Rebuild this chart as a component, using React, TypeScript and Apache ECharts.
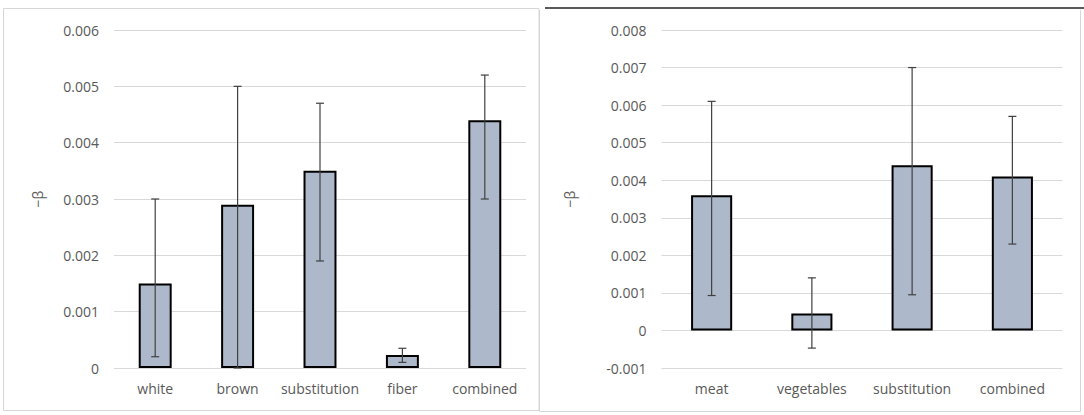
import React, { useEffect, useRef } from "react";
import * as echarts from "echarts";

const leftCategories = ["white", "brown", "substitution", "fiber", "combined"];
const leftValues = [0.0015, 0.0029, 0.0035, 0.00023, 0.0044];
const leftLow = [0.0002, 0.0, 0.0019, 0.0001, 0.003];
const leftHigh = [0.003, 0.005, 0.0047, 0.00035, 0.0052];

const rightCategories = ["meat", "vegetables", "substitution", "combined"];
const rightValues = [0.0036, 0.00045, 0.0044, 0.0041];
const rightLow = [0.00093, -0.00047, 0.00095, 0.0023];
const rightHigh = [0.0061, 0.0014, 0.007, 0.0057];

const FONT = "'Open Sans', 'Noto Sans', sans-serif";
const TEXT = "#595959";
const GRID = "#d9d9d9";

function errRender(params: any, api: any) {
  const idx = api.value(0);
  const lo = api.coord([idx, api.value(1)]);
  const hi = api.coord([idx, api.value(2)]);
  const hw = 4;
  const style = { stroke: "#404040", lineWidth: 1.2 };
  return {
    type: "group",
    children: [
      { type: "line", shape: { x1: hi[0], y1: hi[1], x2: lo[0], y2: lo[1] }, style },
      { type: "line", shape: { x1: hi[0] - hw, y1: hi[1], x2: hi[0] + hw, y2: hi[1] }, style },
      { type: "line", shape: { x1: lo[0] - hw, y1: lo[1], x2: lo[0] + hw, y2: lo[1] }, style },
    ],
  };
}

const fmt = (v: number) => (Math.abs(v) < 1e-12 ? "0" : v.toFixed(3));

export default function App() {
  const ref = useRef<HTMLDivElement>(null);
  useEffect(() => {
    document.body.style.margin = "0";
    const chart = echarts.init(ref.current!, null, { renderer: "svg" });
    const yAxisBase = (min: number, max: number, margin: number, nameGap: number) => ({
      type: "value",
      min,
      max,
      interval: 0.001,
      name: "−β",
      nameLocation: "middle",
      nameGap,
      nameTextStyle: { color: TEXT, fontSize: 14, fontFamily: FONT },
      axisLine: { show: false },
      axisTick: { show: false },
      axisLabel: { color: TEXT, fontSize: 14, fontFamily: FONT, margin, formatter: fmt },
      splitLine: { show: true, lineStyle: { color: GRID, width: 1 } },
    });
    const xAxisBase = (data: string[], gridIndex: number) => ({
      type: "category",
      gridIndex,
      data,
      axisLine: { show: false },
      axisTick: { show: false },
      axisLabel: { color: TEXT, fontSize: 14, fontFamily: FONT, margin: 13, interval: 0 },
      splitLine: { show: false },
    });
    chart.setOption({
      animation: false,
      backgroundColor: "#ffffff",
      grid: [
        { left: 114, width: 412, top: 30, height: 338 },
        { left: 661.5, width: 401, top: 30, height: 338 },
      ],
      xAxis: [xAxisBase(leftCategories, 0), xAxisBase(rightCategories, 1)],
      yAxis: [
        { ...yAxisBase(0, 0.006, 15, 70), gridIndex: 0 },
        { ...yAxisBase(-0.001, 0.008, 15, 85), gridIndex: 1 },
      ],
      series: [
        {
          type: "bar",
          xAxisIndex: 0,
          yAxisIndex: 0,
          data: leftValues,
          barWidth: "40%",
          itemStyle: { color: "#adb9ca", borderColor: "#000", borderWidth: 2 },
          z: 2,
        },
        {
          type: "custom",
          xAxisIndex: 0,
          yAxisIndex: 0,
          data: leftCategories.map((_, i) => [i, leftLow[i], leftHigh[i]]),
          renderItem: errRender,
          z: 5,
        },
        {
          type: "bar",
          xAxisIndex: 1,
          yAxisIndex: 1,
          data: rightValues,
          barWidth: "41%",
          itemStyle: { color: "#adb9ca", borderColor: "#000", borderWidth: 2 },
          z: 2,
        },
        {
          type: "custom",
          xAxisIndex: 1,
          yAxisIndex: 1,
          data: rightCategories.map((_, i) => [i, rightLow[i], rightHigh[i]]),
          renderItem: errRender,
          z: 5,
        },
      ],
      graphic: [
        {
          type: "rect",
          shape: { x: 3.5, y: 8.5, width: 535.5, height: 402 },
          style: { fill: "none", stroke: "#d6d6d6", lineWidth: 1 },
          silent: true,
        },
        {
          type: "polyline",
          shape: { points: [[539.5, 10], [539.5, 411.5], [1080.5, 411.5], [1080.5, 10]] },
          style: { fill: "none", stroke: "#d6d6d6", lineWidth: 1 },
          silent: true,
        },
        {
          type: "line",
          shape: { x1: 545, y1: 8, x2: 1084, y2: 8 },
          style: { stroke: "#222", lineWidth: 1.5 },
          silent: true,
        },
      ],
    });
    return () => chart.dispose();
  }, []);
  return <div ref={ref} style={{ position: "absolute", left: 0, top: 0, width: 1084, height: 415 }} />;
}
